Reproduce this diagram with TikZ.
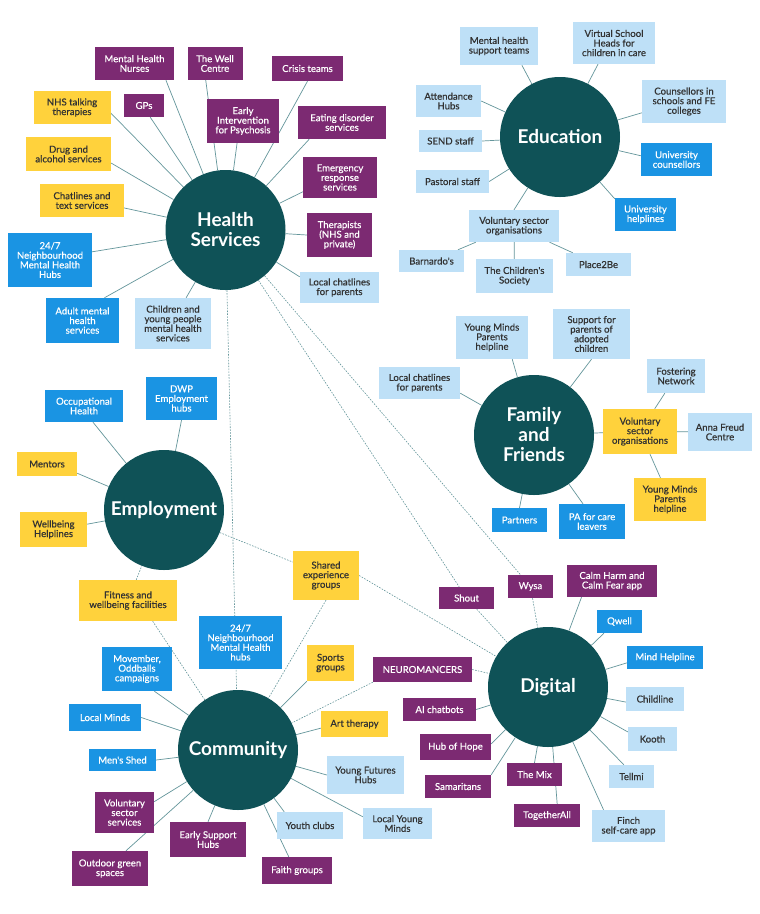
\documentclass[tikz,border=0pt]{standalone}
\usepackage{fontspec}
\setmainfont{Lato}
\newfontfamily\boxfont{Lato}[FakeBold=0.5]
\usetikzlibrary{backgrounds}
\definecolor{hubteal}{RGB}{15,82,87}
\definecolor{mhpurple}{RGB}{124,42,114}
\definecolor{mhyellow}{RGB}{255,210,60}
\definecolor{mhblue}{RGB}{26,148,227}
\definecolor{mhlight}{RGB}{190,224,247}
\definecolor{linkc}{RGB}{100,150,155}
\definecolor{darktext}{RGB}{50,50,50}

\begin{document}
\begin{tikzpicture}[
    x=1pt, y=-1pt,
    hub/.style={
      circle, fill=hubteal, minimum size=120pt, inner sep=0pt,
      text=white, align=center, font=\fontsize{19}{20}\selectfont\bfseries
    },
    box/.style={inner sep=1pt, align=center, font=\boxfont\fontsize{9.6}{9.6}\selectfont},
    pbox/.style={box, fill=mhpurple, text=white},
    ybox/.style={box, fill=mhyellow, text=darktext},
    bbox/.style={box, fill=mhblue, text=white},
    lbox/.style={box, fill=mhlight, text=darktext},
    wh/.style 2 args={minimum width=#1pt, minimum height=#2pt},
    link/.style={draw=linkc, line width=0.7pt},
    dlink/.style={link, line width=0.6pt, dash pattern=on 1.6pt off 1.3pt}
]
\useasboundingbox (0,0) rectangle (760,914);

% Hubs
\node[hub] (hs) at (225.5,230) {Health\\Services};
\node[hub] (ed) at (560,137) {Education};
\node[hub] (ff) at (534,435) {Family\\and\\Friends};
\node[hub] (em) at (164,510) {Employment};
\node[hub] (dg) at (548,687) {Digital};
\node[hub] (cm) at (238,750) {Community};

% Health Services
\node[pbox, wh={79}{33}] (mhn) at (134.5,63.5) {Mental Health\\Nurses};
\node[pbox, wh={55}{33}] (wc) at (215,63.5) {The Well\\Centre};
\node[pbox, wh={71}{25}] (crt) at (307.5,68.5) {Crisis teams};
\node[ybox, wh={77}{33}] (nhs) at (72,107.5) {NHS talking\\therapies};
\node[pbox, wh={40}{23}] (gps) at (144,105.5) {GPs};
\node[pbox, wh={72}{44}] (eip) at (243,121) {Early\\Intervention\\for Psychosis};
\node[pbox, wh={88}{33}] (eds) at (342,122.5) {Eating disorder\\services};
\node[ybox, wh={85}{34}] (das) at (68.5,154) {Drug and\\alcohol services};
\node[pbox, wh={74}{41}] (ers) at (340,177.5) {Emergency\\response\\services};
\node[ybox, wh={84}{33}] (cts) at (82,200.5) {Chatlines and\\text services};
\node[bbox, wh={84}{54}] (nmh) at (50,260) {24/7\\Neighbourhood\\Mental Health\\Hubs};
\node[pbox, wh={65}{44}] (thp) at (339.5,235) {Therapists\\(NHS and\\private)};
\node[lbox, wh={79}{31}] (lcp) at (339.5,287.5) {Local chatlines\\for parents};
\node[bbox, wh={73}{45}] (amh) at (82.5,320.5) {Adult mental\\health\\services};
\node[lbox, wh={76}{51}] (cyp) at (173,323.5) {Children and\\young people\\mental health\\services};

% Education
\node[lbox, wh={78}{38}] (mht) at (499,46) {Mental health\\support teams};
\node[lbox, wh={82}{42}] (vsh) at (614,43) {Virtual School\\Heads for\\children in care};
\node[lbox, wh={65}{32}] (att) at (448.5,101) {Attendance\\Hubs};
\node[lbox, wh={84}{43}] (csf) at (684,101.5) {Counsellors in\\schools and FE\\colleges};
\node[lbox, wh={63}{22}] (sen) at (450.5,141) {SEND staff};
\node[bbox, wh={71}{33}] (uco) at (676.5,159.5) {University\\counsellors};
\node[lbox, wh={73}{23}] (pas) at (452.5,181.5) {Pastoral staff};
\node[bbox, wh={61}{33}] (uhl) at (645.5,214.5) {University\\helplines};
\node[lbox, wh={90}{32}] (vse) at (514,226) {Voluntary sector\\organisations};
\node[lbox, wh={65}{22}] (bar) at (431.5,261) {Barnardo's};
\node[lbox, wh={77}{34}] (tcs) at (514.5,276) {The Children's\\Society};
\node[lbox, wh={65}{23}] (p2b) at (598.5,264.5) {Place2Be};

% Family and Friends
\node[lbox, wh={72}{43}] (ymp) at (492,337.5) {Young Minds\\Parents\\helpline};
\node[lbox, wh={77}{50}] (spa) at (591.5,334) {Support for\\parents of\\adopted\\children};
\node[lbox, wh={81}{32}] (lcf) at (419.5,383) {Local chatlines\\for parents};
\node[lbox, wh={58}{34}] (fos) at (676,376) {Fostering\\Network};
\node[ybox, wh={74}{45}] (vsf) at (640,431.5) {Voluntary\\sector\\organisations};
\node[lbox, wh={64}{38}] (afc) at (720,432) {Anna Freud\\Centre};
\node[ybox, wh={72}{43}] (ymy) at (670,499.5) {Young Minds\\Parents\\helpline};
\node[bbox, wh={55}{24}] (ptn) at (519.5,520) {Partners};
\node[bbox, wh={66}{35}] (pac) at (592,521.5) {PA for care\\leavers};

% Employment
\node[bbox, wh={78}{32}] (occ) at (84,406) {Occupational\\Health};
\node[bbox, wh={71}{43}] (dwp) at (181.5,398.5) {DWP\\Employment\\hubs};
\node[ybox, wh={60}{24}] (men) at (47,464) {Mentors};
\node[ybox, wh={67}{35}] (wbh) at (53.5,529.5) {Wellbeing\\Helplines};
\node[ybox, wh={98}{41}] (fit) at (128,600.5) {Fitness and\\wellbeing facilities};
\node[ybox, wh={66}{49}] (seg) at (326,575.5) {Shared\\experience\\groups};

% Digital
\node[pbox, wh={55}{22}] (sht) at (466.5,598) {Shout};
\node[pbox, wh={45}{23}] (wys) at (530.5,586.5) {Wysa};
\node[pbox, wh={90}{32}] (chf) at (612,581) {Calm Harm and\\Calm Fear app};
\node[bbox, wh={45}{23}] (qwl) at (619.5,621.5) {Qwell};
\node[bbox, wh={76}{23}] (mhl) at (665,657.5) {Mind Helpline};
\node[lbox, wh={58}{24}] (chl) at (655,699) {Childline};
\node[pbox, wh={99}{25}] (neu) at (422.5,669.5) {NEUROMANCERS};
\node[pbox, wh={73}{23}] (aic) at (439.5,709.5) {AI chatbots};
\node[lbox, wh={49}{24}] (koo) at (652.5,739) {Kooth};
\node[pbox, wh={71}{26}] (hoh) at (455.5,747) {Hub of Hope};
\node[pbox, wh={66}{23}] (sam) at (458,786.5) {Samaritans};
\node[pbox, wh={55}{23}] (mix) at (534.5,774.5) {The Mix};
\node[pbox, wh={66}{23}] (tga) at (547,815.5) {TogetherAll};
\node[lbox, wh={45}{23}] (tel) at (631.5,776.5) {Tellmi};
\node[lbox, wh={73}{32}] (fin) at (628.5,826) {Finch\\self-care app};

% Community
\node[bbox, wh={83}{53}] (nhc) at (240.5,642.5) {24/7\\Neighbourhood\\Mental Health\\hubs};
\node[bbox, wh={70}{44}] (mov) at (137,669) {Movember,\\Oddballs\\campaigns};
\node[ybox, wh={47}{36}] (spo) at (330.5,663) {Sports\\groups};
\node[bbox, wh={72}{27}] (lmi) at (105,717.5) {Local Minds};
\node[ybox, wh={67}{26}] (art) at (354.5,724) {Art therapy};
\node[bbox, wh={67}{22}] (msh) at (122.5,760) {Men's Shed};
\node[lbox, wh={77}{38}] (yfh) at (365.5,775) {Young Futures\\Hubs};
\node[pbox, wh={59}{41}] (vss) at (124.5,812.5) {Voluntary\\sector\\services};
\node[pbox, wh={76}{35}] (ogs) at (110,868.5) {Outdoor green\\spaces};
\node[pbox, wh={76}{35}] (esh) at (208,839.5) {Early Support\\Hubs};
\node[lbox, wh={66}{27}] (ycl) at (310,825.5) {Youth clubs};
\node[lbox, wh={69}{31}] (lym) at (397.5,823.5) {Local Young\\Minds};
\node[pbox, wh={70}{27}] (fai) at (297,870.5) {Faith groups};

% Links
\begin{scope}[on background layer]
\fill[white] (0,0) rectangle (760,914);

\draw[link] (mhn.-28) -- (hs);
\draw[link] (wc.-119) -- (hs);
\draw[link] (crt.south) -- (hs);
\draw[link] (nhs.-8) -- (hs);
\draw[link] (gps.-62) -- (hs);
\draw[link] (eip.-105) -- (hs);
\draw[link] (eds.-153) -- (hs);
\draw[link] (das.-12) -- (hs);
\draw[link] (ers.-159) -- (hs);
\draw[link] (cts.-10) -- (hs);
\draw[link] (nmh.11) -- (hs);
\draw[link] (thp.west) -- (hs);
\draw[link] (lcp.165) -- (hs);
\draw[link] (amh.46) -- (hs);
\draw[link] (cyp.63) -- (hs);

\draw[link] (mht.-40) -- (ed);
\draw[link] (vsh.-127) -- (ed);
\draw[link] (att.east) -- (ed);
\draw[link] (csf.-165) -- (ed);
\draw[link] (sen.east) -- (ed);
\draw[link] (uco.174) -- (ed);
\draw[link] (pas.east) -- (ed);
\draw[link] (uhl.153) -- (ed);
\draw[link] (vse.north) -- (ed);
\draw[link] (bar) -- (vse);
\draw[link] (tcs) -- (vse);
\draw[link] (p2b) -- (vse);

\draw[link] (ymp.-47) -- (ff);
\draw[link] (spa.south) -- (ff);
\draw[link] (lcf.-14) -- (ff);
\draw[link] (vsf) -- (ff);
\draw[link] (fos) -- (vsf);
\draw[link] (afc) -- (vsf);
\draw[link] (ymy) -- (vsf);
\draw[link] (ptn.north) -- (ff);
\draw[link] (pac.117) -- (ff);

\draw[link] (occ.-61) -- (em);
\draw[link] (dwp.south) -- (em);
\draw[link] (men.-17) -- (em);
\draw[link] (wbh.9) -- (em);

\draw[link] (chf.-152) -- (dg);
\draw[link] (qwl.-143) -- (dg);
\draw[link] (mhl.-172) -- (dg);
\draw[link] (chl.-174) -- (dg);
\draw[link] (aic.east) -- (dg);
\draw[link] (koo.164) -- (dg);
\draw[link] (hoh.5) -- (dg);
\draw[link] (sam.north east) -- (dg);
\draw[link] (mix.north) -- (dg);
\draw[link] (tga.49) -- (dg);
\draw[link] (tel.123) -- (dg);
\draw[link] (fin.147) -- (dg);

\draw[link] (mov.-52) -- (cm);
\draw[link] (spo.south west) -- (cm);
\draw[link] (lmi.east) -- (cm);
\draw[link] (art.-173) -- (cm);
\draw[link] (msh.east) -- (cm);
\draw[link] (yfh.west) -- (cm);
\draw[link] (vss.20) -- (cm);
\draw[link] (ogs.48) -- (cm);
\draw[link] (esh.north) -- (cm);
\draw[link] (ycl.152) -- (cm);
\draw[link] (lym.169) -- (cm);
\draw[link] (fai.121) -- (cm);

% Cross links
\draw[dlink] (hs) -- (cm);
\draw[dlink] (hs) -- (sht);
\draw[dlink] (hs) -- (wys);
\draw[dlink] (sht) -- (dg);
\draw[dlink] (wys) -- (dg);
\draw[dlink] (neu.east) -- (dg);
\draw[dlink] (neu.south west) -- (cm);
\draw[dlink] (em) -- (seg);
\draw[dlink] (seg.east) -- (dg);
\draw[dlink] (seg.south) -- (cm);
\draw[dlink] (fit) -- (em);
\draw[dlink] (fit.-40) -- (cm);
\end{scope}

\end{tikzpicture}
\end{document}
